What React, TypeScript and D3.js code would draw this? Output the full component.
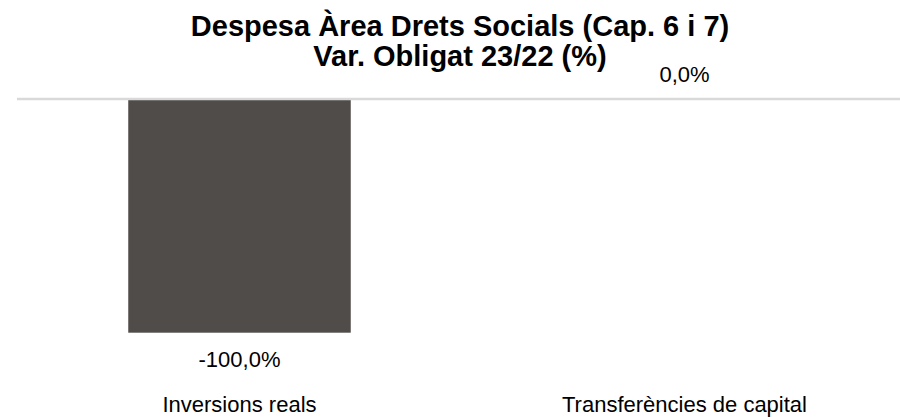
import React from "react";
import * as d3 from "d3";

const categories = ["Inversions reals", "Transferències de capital"];
const values = [-100.0, 0.0];
const titleLines = ["Despesa Àrea Drets Socials (Cap. 6 i 7)", "Var. Obligat 23/22 (%)"];

const W = 900;
const H = 417;
const FONT = "'Liberation Sans', Arial, Helvetica, sans-serif";

const fmt = (v: number) => d3.format(".1f")(v).replace("\u2212", "-").replace(".", ",") + "%";

export default function App() {
  const x = d3
    .scaleBand<string>()
    .domain(categories)
    .range([17, 907])
    .paddingInner(0.5)
    .paddingOuter(0.25);
  const y = d3.scaleLinear().domain([-100, 0]).range([332.7, 99.5]);

  return (
    <svg
      width={W}
      height={H}
      style={{ position: "absolute", left: 0, top: 0, display: "block", background: "#fff" }}
      fontFamily={FONT}
    >
      <rect width={W} height={H} fill="#fff" />
      {titleLines.map((t, i) => (
        <text
          key={i}
          x={460}
          y={36 + i * 29.5}
          textAnchor="middle"
          fontSize={29}
          fontWeight="bold"
          fill="#000"
        >
          {t}
        </text>
      ))}
      {categories.map((c, i) => {
        const v = values[i];
        const x0 = x(c)!;
        const yTop = y(Math.max(0, v));
        const yBot = y(Math.min(0, v));
        const cx = x0 + x.bandwidth() / 2;
        return (
          <g key={c}>
            <rect x={x0} y={yTop} width={x.bandwidth()} height={yBot - yTop} fill="#504c49" />
            <text
              x={cx}
              y={v < 0 ? yBot + 34.5 : yTop - 17.5}
              textAnchor="middle"
              fontSize={22}
              fill="#000"
            >
              {fmt(v)}
            </text>
            <text x={cx} y={411.5} textAnchor="middle" fontSize={22} fill="#000">
              {c}
            </text>
          </g>
        );
      })}
      <line x1={17} x2={W} y1={y(0) - 0.5} y2={y(0) - 0.5} stroke="#d9d9d9" strokeWidth={2.5} />
    </svg>
  );
}
